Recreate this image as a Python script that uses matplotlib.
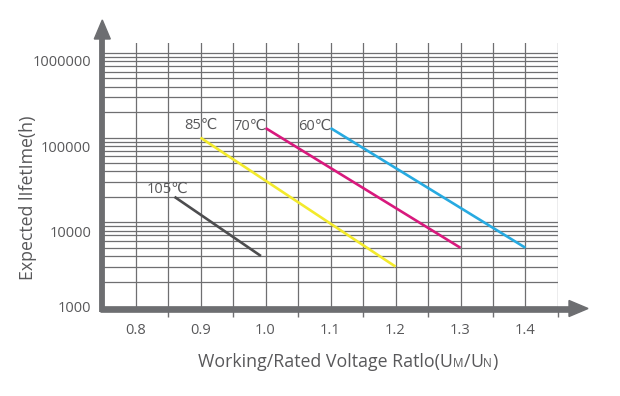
import numpy as np
import matplotlib
matplotlib.use("Agg")
import matplotlib.pyplot as plt
import matplotlib.transforms as mtransforms
from matplotlib.patches import Polygon
from matplotlib.lines import Line2D
from matplotlib.offsetbox import TextArea, HPacker, AnnotationBbox

# ---- data ----
series_names = ["105℃", "85℃", "70℃", "60℃"]
series_x = [[0.86, 0.993], [0.90, 1.20], [1.00, 1.30], [1.10, 1.40]]
series_y = [[20000, 4000], [100000, 3000], [130000, 5000], [130000, 5000]]
series_colors = ["#4d4d4f", "#f3ea2c", "#d8197d", "#27aae1"]

x_tick_values = [0.8, 0.9, 1.0, 1.1, 1.2, 1.3, 1.4]
x_tick_labels = ["0.8", "0.9", "1.0", "1.1", "1.2", "1.3", "1.4"]
x_minor_ticks = [0.85, 0.95, 1.05, 1.15, 1.25, 1.35, 1.45]
y_tick_values = [1000, 10000, 100000, 1000000]
y_tick_labels = ["1000", "10000", "100000", "1000000"]

FONT = ["Open Sans", "DejaVu Sans"]
TXT = "#58585a"
GRID = "#6f6f71"
AXC = "#6d6e71"

fig = plt.figure(figsize=(6.2, 3.96), dpi=100)
ax = fig.add_axes([103/620, 1 - 307/396, 455/620, 264/396])
ax.set_yscale("log")
ax.set_xlim(0.75, 1.45)
ax.set_ylim(1000, 10 ** (6 + 10/84.7))
for s in ax.spines.values():
    s.set_visible(False)

# grid
gx = np.round(np.arange(0.8, 1.451, 0.05), 3)
for v in gx:
    ax.axvline(v, color=GRID, lw=0.9, zorder=1)
for dec in [1000, 10000, 100000]:
    for m in range(1, 10):
        ax.axhline(dec * m, color=GRID, lw=0.9, zorder=1)
ax.axhline(1000000, color=GRID, lw=0.9, zorder=1)

# series
for name, xs, ys, c in zip(series_names, series_x, series_y, series_colors):
    ax.plot(xs, ys, color=c, lw=1.9, solid_capstyle="butt", zorder=3)

# temperature labels
label_offsets = {"105℃": (-7, 8, "center"), "85℃": (0, 12, "center"),
                 "70℃": (1, 2, "right"), "60℃": (1, 2, "right")}
for name, xs, ys in zip(series_names, series_x, series_y):
    dx, dy, ha = label_offsets[name]
    ax.annotate(name, (xs[0], ys[0]), xytext=(dx, dy), textcoords="offset pixels",
                ha=ha, va="center", fontsize=10.5, color=TXT, family=FONT, zorder=4)

# x ticks
ax.set_xticks(x_tick_values)
ax.set_xticklabels(x_tick_labels, family=FONT, fontsize=10.5, color=TXT)
ax.tick_params(axis="x", which="major", length=0, pad=11.5)
ax.set_xticks(x_minor_ticks, minor=True)
ax.tick_params(axis="x", which="minor", length=7, width=1, color=GRID)
ax.set_yticks([])
ax.set_yticks([], minor=True)

# y tick labels (as drawn, slightly below their grid lines)
y_label_shift = {1000: -2, 10000: -11, 100000: -11, 1000000: -10}
for v, t in zip(y_tick_values, y_tick_labels):
    tr = mtransforms.offset_copy(ax.get_yaxis_transform(), fig=fig, x=0,
                                 y=y_label_shift[v], units="dots")
    ax.text(-0.026, v, t, transform=tr, ha="right", va="center",
            fontsize=10.5, color=TXT, family=FONT, clip_on=False)

# axes with arrows
W, H = 455.0, 264.0
yc = -1.5 / H
ax.add_line(Line2D([-3/W, (569-103)/W], [yc, yc], transform=ax.transAxes,
                   color=AXC, lw=4.8, solid_capstyle="butt", clip_on=False, zorder=5))
ax.add_patch(Polygon([[(569-103)/W, yc + 8/H], [(588-103)/W, yc], [(569-103)/W, yc - 8/H]],
                     closed=True, transform=ax.transAxes, color=AXC, clip_on=False, zorder=5))
xc = -0.7 / W
ax.add_line(Line2D([xc, xc], [-5/H, (307-38)/H], transform=ax.transAxes,
                   color=AXC, lw=4.2, solid_capstyle="butt", clip_on=False, zorder=5))
ax.add_patch(Polygon([[xc - 8/W, (307-39)/H], [xc, (307-20)/H], [xc + 8/W, (307-39)/H]],
                     closed=True, transform=ax.transAxes, color=AXC, clip_on=False, zorder=5))

# axis titles
fig.text(28/620, 1 - 198/396, "Expected lIfetIme(h)", rotation=90, ha="center", va="center",
         fontsize=12.8, color=TXT, family=FONT)

big = dict(color=TXT, fontsize=12.8, family=FONT)
small = dict(color=TXT, fontsize=8.5, family=FONT)
parts = [TextArea("Working/Rated Voltage Ratlo(U", textprops=big),
         TextArea("M", textprops=small),
         TextArea("/", textprops=big),
         TextArea("U", textprops=big),
         TextArea("N", textprops=small),
         TextArea(")", textprops=big)]
box = HPacker(children=parts, align="baseline", pad=0, sep=0)
ab = AnnotationBbox(box, (348/620, 1 - 361.7/396), xycoords="figure fraction",
                    frameon=False, box_alignment=(0.5, 0.5), pad=0)
fig.add_artist(ab)

fig.savefig("out.png", dpi=100, facecolor="white")
